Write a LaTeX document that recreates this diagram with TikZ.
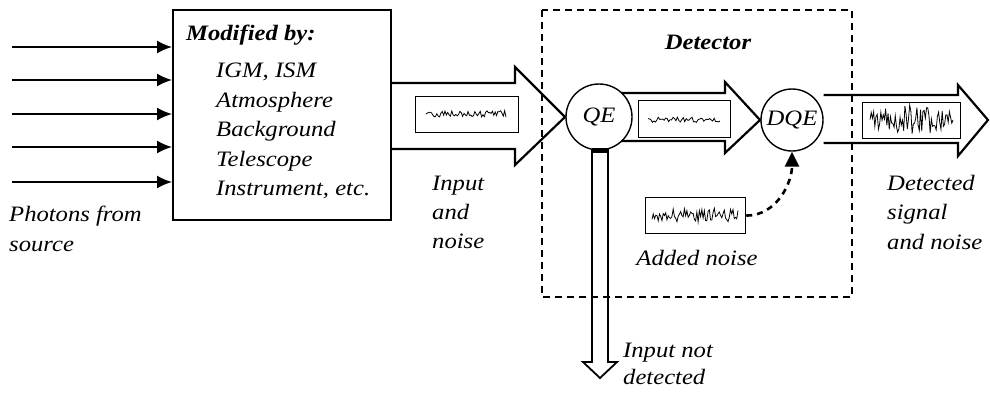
\documentclass[tikz,border=0pt]{standalone}
\usepackage{fontspec}
\setmainfont[FakeStretch=1.12]{Liberation Serif}
\usetikzlibrary{arrows.meta}
\begin{document}
\begin{tikzpicture}[x=1pt,y=-1pt,
  lbl/.style={font=\itshape\fontsize{22}{29.5}\selectfont, align=left, inner sep=0pt, anchor=north west},
  fat/.style={line width=2.2pt, line join=miter},
  nbox/.style={draw, line width=1.2pt, fill=white},
  wave/.style={line width=0.8pt},
  ray/.style={line width=1.8pt, -{Latex[length=15pt,width=13pt]}},
  ring/.style={circle, draw, line width=1.4pt, fill=white, inner sep=0pt, font=\itshape\fontsize{22}{24}\selectfont},
  detbox/.style={line width=1.6pt, dash pattern=on 7pt off 5pt}]
\useasboundingbox (0,0) rectangle (990,392);
\fill[white] (0,0) rectangle (990,392);

% modifier box
\node[draw, line width=1.6pt, minimum width=218pt, minimum height=210pt, anchor=north west, inner sep=0pt] (mod) at (172,9) {};
\node[lbl, font=\bfseries\itshape\fontsize{22}{24}\selectfont] (modt) at (186,25) {Modified by:};
\node[lbl] (modl) at (216,63) {IGM, ISM\\Atmosphere\\Background\\Telescope\\Instrument, etc.};

% photon rays
\foreach \y [count=\i] in {47,80,114,147,182}{
  \coordinate (r\i) at (12,\y);
  \draw[ray] (r\i) -- (r\i -| mod.west);
}
\node[lbl] (phot) at (9,206) {Photons from\\source};

% fat arrow 1
\coordinate (a1) at (mod.east |- 0,83);
\draw[fat] (a1) -- (515,83) -- (515,67) -- (565,117) -- (515,165) -- (515,149) -- (mod.east |- 0,149);
\node[nbox, minimum width=103pt, minimum height=36pt, anchor=north west, inner sep=0pt] (n1) at (415,96) {};
\pgfmathsetseed{11}
\draw[wave] plot[domain=426:506, samples=60] (\x, {114+3.5*rand});

% fat arrow 2
\draw[fat, fill=white] (620,93) -- (725,93) -- (725,82) -- (760,120) -- (725,153) -- (725,141) -- (620,141);
% QE circle
\node[ring, minimum size=66pt] (qe) at (599,117) {QE};
\node[nbox, minimum width=92pt, minimum height=37pt, anchor=north west, inner sep=0pt] (n2) at (638,100) {};
\pgfmathsetseed{23}
\draw[wave] plot[domain=648:720, samples=50] (\x, {120+2.8*rand});

% DQE circle
\node[ring, minimum size=62pt] (dqe) at (792,120) {DQE};

% fat arrow 3
\draw[fat] (dqe.east |- 0,95) -- (958,95) -- (958,85) -- (988,120) -- (958,156) -- (958,143) -- (dqe.east |- 0,143);
\node[nbox, minimum width=98pt, minimum height=36pt, anchor=north west, inner sep=0pt] (n3) at (862,102) {};
\pgfmathsetseed{5}
\draw[wave] plot[domain=870:953, samples=70] (\x, {120+(8+7*sin((\x-870)*2.2))*rand});

% down arrow from QE
\draw[fat, line width=1.8pt] (592,149) -- (592,362) -- (583,362) -- (600,378) -- (617,362) -- (608,362) -- (608,149);
\fill (592,148) rectangle (608,153);

% added noise
\node[nbox, minimum width=100pt, minimum height=36pt, anchor=north west, inner sep=0pt] (n4) at (645,197) {};
\pgfmathsetseed{77}
\draw[wave] plot[domain=652:738, samples=70] (\x, {215+7*rand});
\draw[line width=2.6pt, dash pattern=on 6pt off 5pt, -{Triangle[length=15pt,width=14pt]}]
  (n4.east) to[out=0, in=-90] (dqe.south);

% detector box
\draw[detbox] (542,10) rectangle (852,297);
\node[lbl, font=\bfseries\itshape\fontsize{22}{24}\selectfont, anchor=center] (det) at (708,42) {Detector};

% labels
\node[lbl, font=\itshape\fontsize{22}{29}\selectfont] (inp) at (432,176) {Input\\and\\noise};
\node[lbl, anchor=center] (add) at (697,258) {Added noise};
\node[lbl] (dets) at (887,175) {Detected\\signal\\and noise};
\node[lbl, font=\itshape\fontsize{22}{27}\selectfont] (nd) at (623,343) {Input not\\detected};
\end{tikzpicture}
\end{document}
